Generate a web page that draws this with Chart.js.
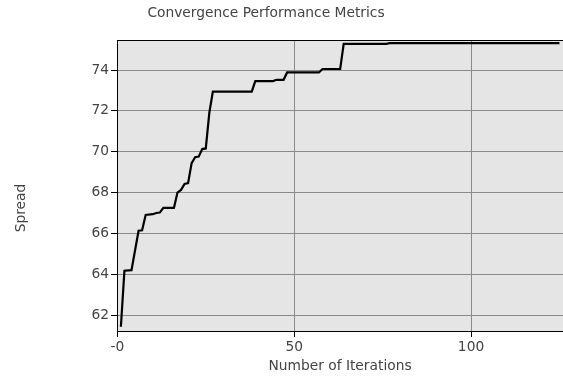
<!DOCTYPE html>
<html>
<head>
<meta charset="utf-8">
<title>Convergence Performance Metrics</title>
<script src="https://cdn.jsdelivr.net/npm/chart.js@4/dist/chart.umd.min.js"></script>
<style>
  html, body { margin: 0; padding: 0; background: #fff; }
  #wrap { width: 563px; height: 383px; position: relative; }
</style>
</head>
<body>
<div id="wrap"><canvas id="convChart"></canvas></div>
<script>
// Data (iteration where the value changes, and the value)
const iterations = [1, 2, 4, 6, 7, 8, 10, 11, 12, 13, 16, 17, 18, 19, 20, 21, 22, 23, 24, 25, 26, 27,
                    38, 39, 44, 45, 47, 48, 57, 58, 63, 64, 76, 77, 125];
const spread = [61.43, 64.17, 64.2, 66.13, 66.15, 66.9, 66.94, 67.0, 67.02, 67.25, 67.25, 68.0, 68.13,
                68.42, 68.46, 69.44, 69.73, 69.76, 70.13, 70.16, 71.9, 72.94,
                72.94, 73.46, 73.46, 73.52, 73.52, 73.88, 73.88, 74.05, 74.05, 75.28, 75.28, 75.32, 75.32];

const xTicks = [0, 50, 100];
const xTickLabels = ['-0', '50', '100'];
const yTicks = [62, 64, 66, 68, 70, 72, 74];

const chartTitle = 'Convergence Performance Metrics';
const xTitle = 'Number of Iterations';
const yTitle = 'Spread';

const textColor = '#444';
const font = { family: 'DejaVu Sans', size: 13.8 };

// Grey panel + top border, and the text that is not centred the Chart.js way
const panelPlugin = {
    id: 'panel',
    beforeDraw(chart) {
        const { ctx, chartArea: a } = chart;
        ctx.save();
        ctx.fillStyle = '#e5e5e5';
        ctx.fillRect(a.left, a.top, a.right - a.left, a.bottom - a.top);
        ctx.restore();
    },
    beforeDatasetsDraw(chart) {
        const { ctx, chartArea: a } = chart;
        ctx.save();
        ctx.strokeStyle = '#000';
        ctx.lineWidth = 1;
        ctx.beginPath();
        ctx.moveTo(a.left, a.top + 0.5);
        ctx.lineTo(a.right, a.top + 0.5);
        ctx.stroke();
        ctx.restore();
    },
    afterDraw(chart) {
        const { ctx, chartArea: a } = chart;
        ctx.save();
        ctx.fillStyle = textColor;
        ctx.font = font.size + 'px "' + font.family + '"';
        ctx.textAlign = 'center';
        ctx.textBaseline = 'middle';
        ctx.fillText(chartTitle, 266, 13);
        ctx.fillText(xTitle, (a.left + a.right) / 2, 366);
        ctx.translate(21, 208);
        ctx.rotate(-Math.PI / 2);
        ctx.fillText(yTitle, 0, 0);
        ctx.restore();
    }
};

const ctx = document.getElementById('convChart').getContext('2d');

const convChart = new Chart(ctx, {
    type: 'line',
    data: {
        datasets: [{
            label: yTitle,
            data: iterations.map((it, i) => ({ x: it, y: spread[i] })),
            borderColor: '#000',
            borderWidth: 2.2,
            tension: 0,
            pointRadius: 0,
            fill: false
        }]
    },
    options: {
        responsive: true,
        maintainAspectRatio: false,
        animation: false,
        layout: { padding: { top: 40, left: 0, right: 0, bottom: 0 } },
        plugins: {
            legend: { display: false },
            title: { display: false },
            tooltip: { enabled: false }
        },
        scales: {
            x: {
                type: 'linear',
                min: -0.1,
                max: 126,
                afterFit: s => { s.height = 52; },
                afterBuildTicks: s => { s.ticks = xTicks.map(v => ({ value: v })); },
                ticks: {
                    color: textColor,
                    font: font,
                    padding: 2,
                    maxRotation: 0,
                    callback: (v) => xTickLabels[xTicks.indexOf(v)]
                },
                grid: { color: '#8a8a8a', lineWidth: 1, tickLength: 6, tickColor: '#000' },
                border: { color: '#000', width: 1 }
            },
            y: {
                min: 61.22,
                max: 75.47,
                afterFit: s => { s.width = 117; },
                afterBuildTicks: s => { s.ticks = yTicks.map(v => ({ value: v })); },
                ticks: {
                    color: textColor,
                    font: font,
                    padding: 2,
                    callback: (v) => String(v)
                },
                grid: { color: '#8a8a8a', lineWidth: 1, tickLength: 6, tickColor: '#000' },
                border: { color: '#000', width: 1 }
            }
        }
    },
    plugins: [panelPlugin]
});
</script>
</body>
</html>
